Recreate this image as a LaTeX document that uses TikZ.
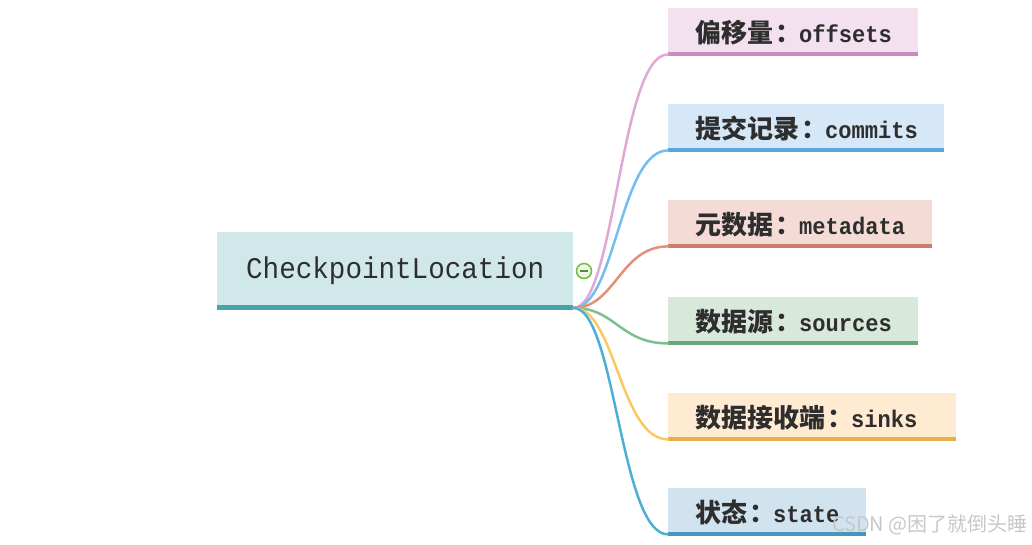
\documentclass[tikz,border=0pt]{standalone}
\usepackage{fontspec}
\usepackage{xcolor}
\usepackage{tikz}
\usetikzlibrary{positioning}
\newfontfamily\latin{Liberation Mono}[FakeStretch=0.92]
\newfontfamily\cjk{Noto Sans CJK SC}
\definecolor{txt}{RGB}{46,46,46}
\definecolor{rootfill}{RGB}{209,232,234}
\definecolor{rootbar}{RGB}{69,165,168}
\definecolor{offfill}{RGB}{244,225,240}
\definecolor{offbar}{RGB}{200,141,189}
\definecolor{offline}{RGB}{224,167,217}
\definecolor{comfill}{RGB}{214,231,248}
\definecolor{combar}{RGB}{92,165,216}
\definecolor{comline}{RGB}{113,190,242}
\definecolor{metafill}{RGB}{245,219,214}
\definecolor{metabar}{RGB}{206,125,105}
\definecolor{metaline}{RGB}{229,143,120}
\definecolor{srcfill}{RGB}{216,232,219}
\definecolor{srcbar}{RGB}{107,166,122}
\definecolor{srcline}{RGB}{125,192,141}
\definecolor{sinkfill}{RGB}{255,235,209}
\definecolor{sinkbar}{RGB}{228,175,76}
\definecolor{sinkline}{RGB}{250,201,98}
\definecolor{statefill}{RGB}{209,227,239}
\definecolor{statebar}{RGB}{69,151,191}
\definecolor{stateline}{RGB}{79,174,212}
\definecolor{togglegreen}{RGB}{110,190,60}
\newcommand{\lbl}[2]{{\cjk\fontsize{26}{26}\selectfont #1\kern2pt：\kern-2pt}{\latin #2}}

\begin{document}
\begin{tikzpicture}[
  x=1pt, y=-1pt,
  topic/.style={rectangle, fill=rootfill, anchor=north west, inner sep=0pt,
                minimum width=356pt, minimum height=78pt,
                font=\latin\fontsize{30}{30}\selectfont, text=txt},
  leaf/.style={rectangle, anchor=north west, inner xsep=27pt, inner ysep=0pt,
               minimum height=48pt, align=left, text=txt,
               font=\bfseries\fontsize{24}{26}\selectfont},
  bar/.style={line width=4pt},
  branch/.style={line width=2.5pt, line cap=round}
]
  \useasboundingbox (0,0) rectangle (1032,544);

  \node[topic] (root) at (217,232) {CheckpointLocation};

  \node[leaf, fill=offfill,   text width=196pt] (off)   at (668,8)   {\lbl{偏移量}{offsets}};
  \node[leaf, fill=comfill,   text width=222pt] (com)   at (668,104) {\lbl{提交记录}{commits}};
  \node[leaf, fill=metafill,  text width=210pt] (meta)  at (668,200) {\lbl{元数据}{metadata}};
  \node[leaf, fill=srcfill,   text width=196pt] (src)   at (668,297) {\lbl{数据源}{sources}};
  \node[leaf, fill=sinkfill,  text width=234pt] (sink)  at (668,393) {\lbl{数据接收端}{sinks}};
  \node[leaf, fill=statefill, text width=144pt] (state) at (668,488) {\lbl{状态}{state}};

  % bottom bars
  \draw[bar, line width=5pt, rootbar] ([yshift=2.5pt]root.south west) -- ([yshift=2.5pt]root.south east);
  \foreach \n/\c in {off/offbar,com/combar,meta/metabar,src/srcbar,sink/sinkbar,state/statebar}
    \draw[bar, \c] ([yshift=2pt]\n.south west) -- ([yshift=2pt]\n.south east);

  % branches
  \coordinate (hub) at ([yshift=2.5pt]root.south east);
  \foreach \n/\c in {off/offline,com/comline,meta/metaline,src/srcline,sink/sinkline,state/stateline}
    \draw[branch, \c] (hub) .. controls +(42,0) and +(-48,0) .. ([yshift=2pt]\n.south west);

  % collapse toggle
  \node[circle, draw=togglegreen, fill=togglegreen!12, line width=1.5pt,
        minimum size=15pt, inner sep=0pt] (toggle) at (584,271) {};
  \draw[togglegreen!75!black, line width=2pt] ([xshift=-4pt]toggle.center) -- ([xshift=4pt]toggle.center);

  \node[font=\cjk\fontsize{20}{20}\selectfont, text=black!22, anchor=east, inner sep=0pt] (mark) at (1028,525) {CSDN @困了就倒头睡};
\end{tikzpicture}
\end{document}
